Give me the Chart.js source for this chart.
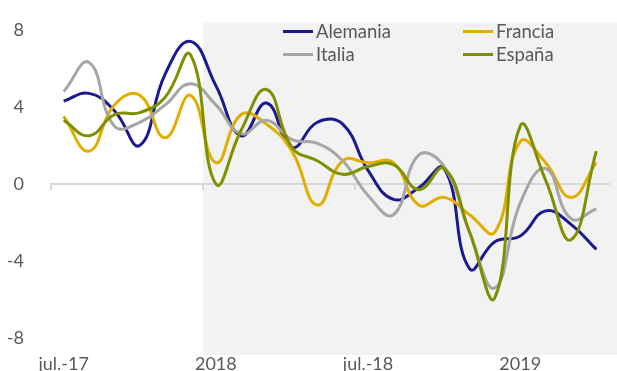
<!DOCTYPE html>
<html>
<head>
<meta charset="utf-8">
<script src="https://cdn.jsdelivr.net/npm/chart.js@4"></script>
<style>
	body { margin: 0; background: #fff; }
	#wrap { position: relative; width: 617px; height: 371px; font-family: Lato, sans-serif; }
	.leg { position: absolute; display: flex; align-items: center; font-size: 18.5px; color: #595959; line-height: 20px; }
	.leg span { display: inline-block; width: 30px; height: 3px; margin-right: 3px; }
</style>
</head>
<body>
<div id="wrap">
	<canvas id="chart" width="617" height="371"></canvas>
	<div class="leg" style="left:283px; top:21px;"><span style="background:#1a1a8e"></span>Alemania</div>
	<div class="leg" style="left:463px; top:21px;"><span style="background:#e3ad00"></span>Francia</div>
	<div class="leg" style="left:283px; top:44px;"><span style="background:#a6a6a6"></span>Italia</div>
	<div class="leg" style="left:463px; top:44px;"><span style="background:#7f8f00"></span>España</div>
</div>
<script>
var months = ['jul.-17', 'ago.-17', 'sep.-17', 'oct.-17', 'nov.-17', 'dic.-17',
	'2018', 'feb.-18', 'mar.-18', 'abr.-18', 'may.-18', 'jun.-18',
	'jul.-18', 'ago.-18', 'sep.-18', 'oct.-18', 'nov.-18', 'dic.-18',
	'2019', 'feb.-19', 'mar.-19', 'abr.-19'];

var alemania = [4.3, 4.7, 3.8, 2.0, 5.7, 7.4, 5.1, 2.5, 4.2, 1.9, 3.2, 3.1, 0.7, -0.8, -0.2, 0.8, -4.4, -3.0, -2.7, -1.4, -2.1, -3.4];
var francia  = [3.5, 1.7, 4.1, 4.6, 2.4, 4.6, 1.1, 3.6, 3.1, 1.7, -1.1, 1.2, 1.1, 1.1, -1.1, -0.7, -1.6, -2.5, 2.2, 1.1, -0.7, 1.1];
var italia   = [4.8, 6.3, 3.0, 3.2, 4.1, 5.2, 4.1, 2.6, 3.3, 2.3, 2.1, 1.2, -0.6, -1.6, 1.5, 0.9, -2.5, -5.4, -1.0, 0.8, -1.8, -1.3];
var espana   = [3.3, 2.5, 3.6, 3.7, 4.5, 6.7, 0.0, 2.8, 4.9, 1.9, 1.2, 0.5, 0.9, 1.0, -0.3, 0.8, -2.5, -5.9, 3.0, 0.2, -2.9, 1.7];

var yTicks = [-8, -4, 0, 4, 8];

var textColor = '#595959';
var axisColor = '#d9d9d9';

// grey band from jan-18 onwards
var shadePlugin = {
	id: 'shade',
	beforeDraw: (chart) => {
		var x = chart.scales.x;
		var half = (x.getPixelForValue(1) - x.getPixelForValue(0)) / 2;
		var left = x.getPixelForValue(6) - half;
		var ctx = chart.ctx;
		ctx.save();
		ctx.fillStyle = '#f2f2f2';
		ctx.fillRect(left, chart.chartArea.top - 7, chart.width - left, chart.chartArea.bottom - chart.chartArea.top + 24);
		ctx.restore();
	}
};

var line = (label, data, color, order) => ({
	label: label,
	data: data,
	borderColor: color,
	backgroundColor: color,
	borderWidth: 3,
	pointRadius: 0,
	tension: 0.45,
	order: order
});

new Chart(document.getElementById('chart').getContext('2d'), {
	type: 'line',
	data: {
		labels: months,
		datasets: [
			line('Alemania', alemania, '#1a1a8e', 4),
			line('Francia', francia, '#e3ad00', 3),
			line('Italia', italia, '#a6a6a6', 2),
			line('España', espana, '#7f8f00', 1)
		]
	},
	options: {
		responsive: false,
		animation: false,
		layout: { padding: { top: 17, right: 8, left: 0, bottom: 0 } },
		plugins: { legend: { display: false }, tooltip: { enabled: false } },
		scales: {
			x: {
				offset: true,
				grid: { display: false },
				border: { display: false },
				ticks: {
					autoSkip: false,
					maxRotation: 0,
					padding: 7,
					color: textColor,
					font: { family: 'Lato', size: 18 },
					callback: (v, i) => i % 6 === 0 ? months[i] : ''
				},
				afterFit: (s) => { s.height = 33; }
			},
			x2: {
				type: 'category',
				labels: months,
				offset: true,
				position: { y: 0 },
				grid: {
					offset: true,
					drawOnChartArea: false,
					tickLength: 5,
					lineWidth: 2,
					color: (c) => c.index % 6 === 0 ? axisColor : 'rgba(0,0,0,0)'
				},
				border: { display: true, color: axisColor, width: 2 },
				ticks: { display: false }
			},
			y: {
				min: -8,
				max: 8,
				afterBuildTicks: (s) => { s.ticks = yTicks.map(v => ({ value: v })); },
				grid: { display: false },
				border: { display: false },
				ticks: {
					padding: 19,
					color: textColor,
					font: { family: 'Lato', size: 18 }
				},
				afterFit: (s) => { s.width = 51; }
			}
		}
	},
	plugins: [shadePlugin]
});
</script>
</body>
</html>
